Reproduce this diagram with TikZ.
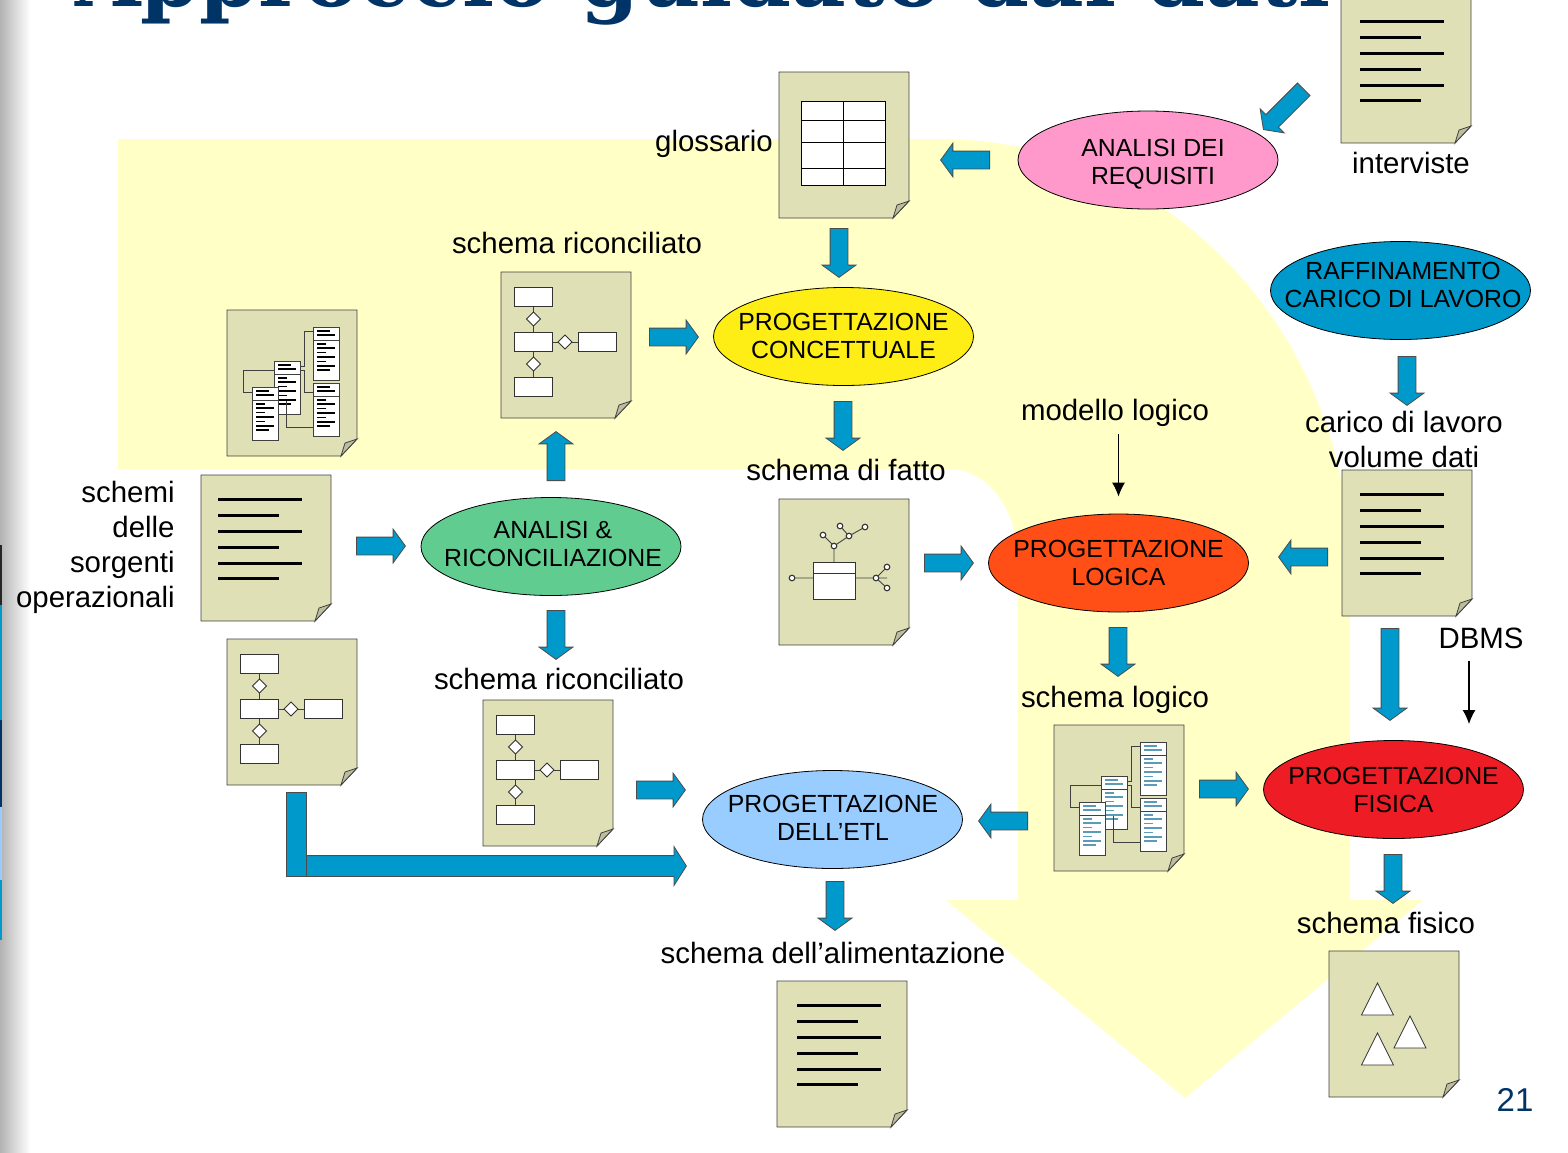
\documentclass[tikz,border=0pt]{standalone}
\usepackage{fontspec}
\setmainfont{Liberation Sans}
\newfontfamily\titlefont{DejaVu Serif}
\usetikzlibrary{shapes.geometric,shapes.arrows,arrows.meta}
\definecolor{pagefill}{HTML}{E0E0B6}
\definecolor{foldfill}{HTML}{BDBD9E}
\definecolor{bandfill}{HTML}{FFFFC6}
\definecolor{flowblue}{HTML}{0099CC}
\definecolor{barblue}{HTML}{5B9BB8}
\definecolor{navy}{HTML}{003366}
\definecolor{procpink}{HTML}{FF99CC}
\definecolor{procyellow}{HTML}{FFEE15}
\definecolor{procgreen}{HTML}{60CC90}
\definecolor{procorange}{HTML}{FF4F17}
\definecolor{procsky}{HTML}{99CCFF}
\definecolor{procred}{HTML}{EE1C25}
\newcommand{\pagebody}{%
\draw[pagebox] (0,0)--(130,0)--(130,129)--(114,146)--(0,146)--cycle;
\draw[draw=black!75,line width=0.4pt,fill=foldfill] (114,146)--(118,133)--(130,129)--cycle;}
\newcommand{\minitbl}[3]{%
\begin{scope}[shift={(#1,#2)}]
\draw[tblbox] (0,0) rectangle (26.5,53);
\draw[tblbox] (0,13)--(26.5,13);
\draw[#3,line width=0.9pt] (4,4)--++(13,0) (4,8)--++(18,0);
\foreach \d/\l in {17/8.5,21/18,25.5/8.5,30/18,34.5/8.5,39/18,43/13}
\draw[#3,line width=0.9pt] (4,\d)--++(\l,0);
\end{scope}}
\tikzset{
pagebox/.style={draw=black!75,line width=0.45pt,fill=pagefill},
tblbox/.style={draw=black!75,line width=0.4pt,fill=white},
erbox/.style={draw=black!80,line width=0.4pt,fill=white},
linkline/.style={draw=black!75,line width=0.45pt},
proc/.style={ellipse,draw=black,line width=0.4pt,fill=#1,inner sep=0pt,minimum width=130pt,minimum height=49pt},
proctext/.style={font=\fontsize{12.4pt}{14pt}\selectfont,align=center,inner sep=0pt},
lbl/.style={font=\fontsize{14.7pt}{17.5pt}\selectfont,inner sep=0pt},
flow/.style={single arrow,draw=black!70,line width=0.4pt,fill=flowblue,inner sep=0pt,inner ysep=4.25pt,single arrow head extend=4pt,single arrow tip angle=108,minimum height=24.5pt,anchor=tail},
thinarr/.style={line width=0.55pt,-{Latex[length=7pt,width=6.5pt]}},
pics/doclines/.style={code={
\pagebody
\foreach \d/\l in {24.5/84,40.5/61,56.5/84,72.5/61,88.5/84,103.5/61}
\draw[line width=1.6pt] (#1,\d)--++(\l,0);
}},
pics/docgrid/.style={code={
\pagebody
\draw[line width=0.5pt,fill=white] (22,29) rectangle (106,113);
\draw[line width=0.5pt] (64,29)--(64,113) (22,48)--(106,48) (22,70)--(106,70) (22,96)--(106,96);
}},
pics/docer/.style={code={
\pagebody
\draw[linkline] (32.5,35)--(32.5,105) (52,70)--(77,70);
\foreach \a/\b in {13/15,13/60,77/60,13/105}
\draw[erbox] (\a,\b) rectangle ++(38.5,19.5);
\foreach \a/\b in {32.5/47,64/70,32.5/92}
\draw[erbox] (\a-7,\b)--(\a,\b-7)--(\a+7,\b)--(\a,\b+7)--cycle;
}},
pics/docstar/.style={code={
\pagebody
\draw[linkline] (13,79)--(108,79) (97,79)--(108,68) (97,79)--(108,89) (55,63)--(55,47)--(44,36) (55,47)--(70,37)--(61,27) (70,37)--(86,28);
\draw[erbox] (34,63) rectangle (76,100);
\draw[erbox] (34,74)--(76,74);
\foreach \a/\b in {13/79,97/79,108/68,108/89,55/47,44/36,70/37,61/27,86/28}
\draw[erbox,line width=0.55pt] (\a,\b) circle (1.4pt);
}},
pics/doctables/.style={code={
\pagebody
\draw[linkline] (47,60)--(16,60)--(16,82)--(25,82) (73,56)--(77.5,56)--(77.5,21)--(86,21) (73,60)--(77.5,60)--(77.5,82)--(86,82);
\minitbl{86}{17}{#1}
\minitbl{86}{73}{#1}
\minitbl{47}{51}{#1}
\minitbl{25}{77}{#1}
\draw[linkline] (59.5,91)--(59.5,117)--(86,117);
}},
pics/doctri/.style={code={
\pagebody
\foreach \a/\b in {48.5/32,81/65,48.5/82}
\draw[erbox] (\a,\b)--(\a-16,\b+32)--(\a+16,\b+32)--cycle;
}}
}
\begin{document}
\begin{tikzpicture}[x=0.5pt,y=-0.5pt]
\clip (0,0) rectangle (1568,1152);
\fill[white] (0,0) rectangle (1568,1152);
\shade[left color=black!30,right color=white] (0,0) rectangle (30,1152);
\fill[black!85] (0,545) rectangle (2,605);
\fill[flowblue] (0,605) rectangle (2,720);
\fill[navy] (0,720) rectangle (2,807);
\fill[procsky] (0,807) rectangle (2,880);
\fill[flowblue] (0,880) rectangle (2,940);
\node[font=\titlefont\bfseries\fontsize{42.2pt}{42pt}\selectfont,text=navy,inner sep=0pt,anchor=base west] (titolo) at (75,6) {Approccio guidato dai dati};
\fill[bandfill] (118,139)--(940,139) arc[start angle=-90,end angle=0,x radius=410,y radius=431]--(1350,900)--(1423,900)--(1185,1098)--(946,900)--(1018,900)--(1018,560) arc[start angle=0,end angle=-90,x radius=68,y radius=91]--(118,469)--cycle;
\pic (interv) at (1341,-3) {doclines=19};
\pic (gloss) at (779,72) {docgrid};
\pic (ricuno) at (501,272) {docer};
\pic (sorg) at (227,310) {doctables=black};
\pic (schemi) at (201,475) {doclines=17};
\pic (fatto) at (779,499) {docstar};
\pic (carico) at (1342,470) {doclines=18};
\pic (ricorig) at (227,639) {docer};
\pic (ricdue) at (483,700) {docer};
\pic (logico) at (1054,725) {doctables=barblue};
\pic (alim) at (777,981) {doclines=20};
\pic (fisico) at (1329,951) {doctri};
\node[proc=procpink] (requisiti) at (1148,160) {};
\node[proc=procyellow] (concett) at (843.5,336.5) {};
\node[proc=flowblue] (raffina) at (1400.5,290.5) {};
\node[proc=procgreen] (analisi) at (551,546.5) {};
\node[proc=procorange] (logica) at (1118.5,563) {};
\node[proc=procsky] (etl) at (832.5,819.5) {};
\node[proc=procred] (fisica) at (1393.5,789.5) {};
\node[proctext] (trequisiti) at ([shift={(5,4)}]requisiti) {ANALISI DEI\\REQUISITI};
\node[proctext] (tconcett) at ([shift={(0,-1)}]concett) {PROGETTAZIONE\\CONCETTUALE};
\node[proctext] (traffina) at ([shift={(2.5,-6)}]raffina) {RAFFINAMENTO\\CARICO DI LAVORO};
\node[proctext] (tanalisi) at ([shift={(2,-3)}]analisi) {ANALISI \&\\RICONCILIAZIONE};
\node[proctext] (tlogica) at (logica) {PROGETTAZIONE\\LOGICA};
\node[proctext] (tetl) at ([shift={(0.5,-2)}]etl) {PROGETTAZIONE\\DELL’ETL};
\node[proctext] (tfisica) at (fisica) {PROGETTAZIONE\\FISICA};
\node[lbl,anchor=base] (lgloss) at (714,151) {glossario};
\node[lbl,anchor=base] (linterv) at (1411,173) {interviste};
\node[lbl,anchor=base] (lricuno) at (577,253) {schema riconciliato};
\node[lbl,anchor=base] (lfatto) at (846,480) {schema di fatto};
\node[lbl,anchor=base] (modello) at (1115,420) {modello logico};
\node[lbl,align=center] (lcarico) at (1404,439) {carico di lavoro\\volume dati};
\node[lbl,align=right,anchor=east] (lschemi) at (175,547) {schemi\\delle\\sorgenti\\operazionali};
\node[lbl,anchor=base] (lricdue) at (559,689) {schema riconciliato};
\node[lbl,anchor=base] (llogico) at (1115,707) {schema logico};
\node[lbl,anchor=base] (dbms) at (1481,648) {DBMS};
\node[lbl,anchor=base] (lalim) at (833,963) {schema dell’alimentazione};
\node[lbl,anchor=base] (lfisico) at (1386,933) {schema fisico};
\node[font=\fontsize{16.5pt}{18pt}\selectfont,text=navy,inner sep=0pt,anchor=base] (pagina) at (1515,1111) {21};
\node[flow,rotate=-135,minimum height=28.5pt] (a0) at (1304,89) {};
\node[flow,rotate=180] (a1) at (990,160) {};
\node[flow,rotate=-90] (a2) at (839,228) {};
\node[flow] (a3) at (649,337) {};
\node[flow,rotate=-90] (a4) at (843,401) {};
\node[flow,rotate=90] (a5) at (556,481) {};
\node[flow] (a6) at (356,546) {};
\node[flow,rotate=-90] (a7) at (556,610) {};
\node[flow] (a8) at (924,563) {};
\node[flow,rotate=180] (a9) at (1328,557) {};
\node[flow,rotate=-90] (a10) at (1407,356) {};
\node[flow,rotate=-90] (a11) at (1118,627) {};
\node[flow,rotate=-90,minimum height=46pt] (a12) at (1390,628) {};
\node[flow] (a13) at (636,790) {};
\node[flow,rotate=180] (a14) at (1028,821) {};
\node[flow] (a15) at (1199,789) {};
\node[flow,rotate=-90] (a16) at (1393,854) {};
\node[flow,rotate=-90] (a17) at (835,881) {};
\draw[draw=black!70,line width=0.4pt,fill=flowblue] (286,792) rectangle (306,876);
\node[flow,inner ysep=5pt,single arrow head extend=4.5pt,single arrow tip angle=115,minimum height=190pt] (a18) at (306,866) {};
\coordinate (dbmsend) at (1469,724);
\draw[thinarr,shorten <=3.5pt,shorten >=8.5pt] (modello.south -| logica) -- (logica.north);
\draw[thinarr,shorten <=6pt] (dbms.south -| dbmsend) -- (dbmsend);
\end{tikzpicture}
\end{document}
